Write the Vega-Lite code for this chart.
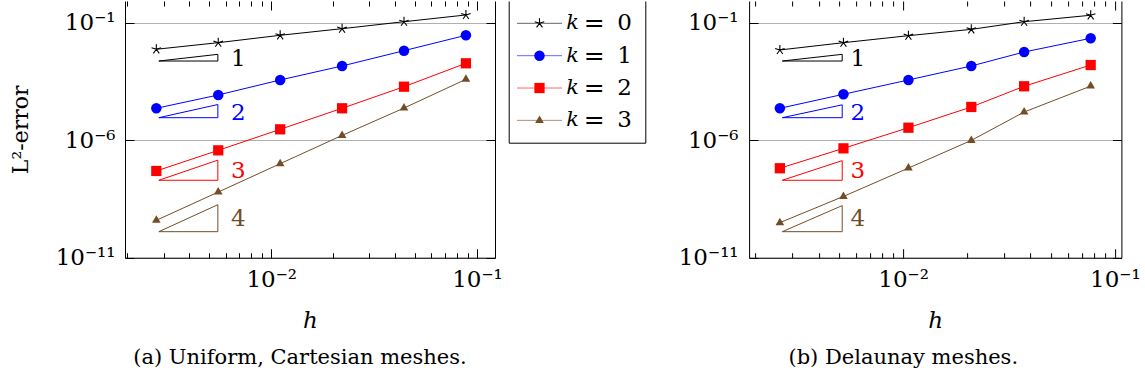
{
  "$schema": "https://vega.github.io/schema/vega-lite/v6.json",
  "padding": {"left": 9, "top": 0, "right": 0, "bottom": 0},
  "bounds": "flush",
  "spacing": 13.7,
  "config": {
    "view": {"stroke": null},
    "font": "DejaVu Serif",
    "axis": {"labelFont": "DejaVu Serif", "titleFont": "DejaVu Serif", "labelColor": "#000", "titleColor": "#000", "domainColor": "#000", "tickColor": "#000", "titleFontWeight": "normal", "labelFontSize": 23}
  },
  "datasets": {
    "a_pts": [
      {"k": 0, "h": 0.002762, "err": 0.0074}, {"k": 0, "h": 0.005524, "err": 0.0141}, {"k": 0, "h": 0.011049, "err": 0.0291}, {"k": 0, "h": 0.022097, "err": 0.0556}, {"k": 0, "h": 0.044194, "err": 0.110}, {"k": 0, "h": 0.088388, "err": 0.213},
      {"k": 1, "h": 0.002762, "err": 2.28e-5}, {"k": 1, "h": 0.005524, "err": 8.4e-5}, {"k": 1, "h": 0.011049, "err": 3.65e-4}, {"k": 1, "h": 0.022097, "err": 1.44e-3}, {"k": 1, "h": 0.044194, "err": 6.44e-3}, {"k": 1, "h": 0.088388, "err": 2.91e-2},
      {"k": 2, "h": 0.002762, "err": 4.9e-8}, {"k": 2, "h": 0.005524, "err": 3.7e-7}, {"k": 2, "h": 0.011049, "err": 2.9e-6}, {"k": 2, "h": 0.022097, "err": 2.28e-5}, {"k": 2, "h": 0.044194, "err": 1.89e-4}, {"k": 2, "h": 0.088388, "err": 1.87e-3},
      {"k": 3, "h": 0.002762, "err": 3.9e-10}, {"k": 3, "h": 0.005524, "err": 6.2e-9}, {"k": 3, "h": 0.011049, "err": 1.0e-7}, {"k": 3, "h": 0.022097, "err": 1.6e-6}, {"k": 3, "h": 0.044194, "err": 2.33e-5}, {"k": 3, "h": 0.088388, "err": 3.9e-4}
    ],
    "b_pts": [
      {"k": 0, "h": 0.00262, "err": 0.0069}, {"k": 0, "h": 0.00523, "err": 0.0141}, {"k": 0, "h": 0.0106, "err": 0.028}, {"k": 0, "h": 0.0210, "err": 0.052}, {"k": 0, "h": 0.0373, "err": 0.110}, {"k": 0, "h": 0.0769, "err": 0.207},
      {"k": 1, "h": 0.00262, "err": 2.28e-5}, {"k": 1, "h": 0.00523, "err": 9.0e-5}, {"k": 1, "h": 0.0106, "err": 3.65e-4}, {"k": 1, "h": 0.0210, "err": 1.44e-3}, {"k": 1, "h": 0.0373, "err": 5.66e-3}, {"k": 1, "h": 0.0769, "err": 2.17e-2},
      {"k": 2, "h": 0.00262, "err": 6.4e-8}, {"k": 2, "h": 0.00523, "err": 4.5e-7}, {"k": 2, "h": 0.0106, "err": 3.4e-6}, {"k": 2, "h": 0.0210, "err": 2.59e-5}, {"k": 2, "h": 0.0373, "err": 1.97e-4}, {"k": 2, "h": 0.0769, "err": 1.58e-3},
      {"k": 3, "h": 0.00262, "err": 3.1e-10}, {"k": 3, "h": 0.00523, "err": 4.05e-9}, {"k": 3, "h": 0.0106, "err": 6.5e-8}, {"k": 3, "h": 0.0210, "err": 9.8e-7}, {"k": 3, "h": 0.0373, "err": 1.58e-5}, {"k": 3, "h": 0.0769, "err": 2.0e-4}
    ],
    "a_tri": [
      {"k": 0, "o": 0, "h": 0.00284, "err": 2.34e-3}, {"k": 0, "o": 1, "h": 0.0055, "err": 2.34e-3}, {"k": 0, "o": 2, "h": 0.0055, "err": 4.5e-3}, {"k": 0, "o": 3, "h": 0.00284, "err": 2.34e-3},
      {"k": 1, "o": 0, "h": 0.00284, "err": 9.06e-6}, {"k": 1, "o": 1, "h": 0.0055, "err": 9.06e-6}, {"k": 1, "o": 2, "h": 0.0055, "err": 3.3e-5}, {"k": 1, "o": 3, "h": 0.00284, "err": 9.06e-6},
      {"k": 2, "o": 0, "h": 0.00284, "err": 1.97e-8}, {"k": 2, "o": 1, "h": 0.0055, "err": 1.97e-8}, {"k": 2, "o": 2, "h": 0.0055, "err": 1.42e-7}, {"k": 2, "o": 3, "h": 0.00284, "err": 1.97e-8},
      {"k": 3, "o": 0, "h": 0.00284, "err": 1.28e-10}, {"k": 3, "o": 1, "h": 0.0055, "err": 1.28e-10}, {"k": 3, "o": 2, "h": 0.0055, "err": 1.8e-9}, {"k": 3, "o": 3, "h": 0.00284, "err": 1.28e-10}
    ],
    "b_tri": [
      {"k": 0, "o": 0, "h": 0.00269, "err": 2.34e-3}, {"k": 0, "o": 1, "h": 0.00516, "err": 2.34e-3}, {"k": 0, "o": 2, "h": 0.00516, "err": 4.5e-3}, {"k": 0, "o": 3, "h": 0.00269, "err": 2.34e-3},
      {"k": 1, "o": 0, "h": 0.00269, "err": 9.06e-6}, {"k": 1, "o": 1, "h": 0.00516, "err": 9.06e-6}, {"k": 1, "o": 2, "h": 0.00516, "err": 3.2e-5}, {"k": 1, "o": 3, "h": 0.00269, "err": 9.06e-6},
      {"k": 2, "o": 0, "h": 0.00269, "err": 1.97e-8}, {"k": 2, "o": 1, "h": 0.00516, "err": 1.97e-8}, {"k": 2, "o": 2, "h": 0.00516, "err": 1.35e-7}, {"k": 2, "o": 3, "h": 0.00269, "err": 1.97e-8},
      {"k": 3, "o": 0, "h": 0.00269, "err": 1.28e-10}, {"k": 3, "o": 1, "h": 0.00516, "err": 1.28e-10}, {"k": 3, "o": 2, "h": 0.00516, "err": 1.65e-9}, {"k": 3, "o": 3, "h": 0.00269, "err": 1.28e-10}
    ],
    "a_lab": [
      {"k": 0, "h": 0.00637, "err": 2.85e-3, "lab": "1"}, {"k": 1, "h": 0.00637, "err": 1.48e-5, "lab": "2"}, {"k": 2, "h": 0.00637, "err": 4.9e-8, "lab": "3"}, {"k": 3, "h": 0.00637, "err": 4.3e-10, "lab": "4"}
    ],
    "b_lab": [
      {"k": 0, "h": 0.00564, "err": 2.85e-3, "lab": "1"}, {"k": 1, "h": 0.00564, "err": 1.48e-5, "lab": "2"}, {"k": 2, "h": 0.00564, "err": 4.9e-8, "lab": "3"}, {"k": 3, "h": 0.00564, "err": 4.3e-10, "lab": "4"}
    ],
    "legend": [
      {"k": 0, "lab": "0"}, {"k": 1, "lab": "1"}, {"k": 2, "lab": "2"}, {"k": 3, "lab": "3"}
    ]
  },
  "hconcat": [
    {
      "width": 370, "height": 256.7,
      "title": {"text": "(a) Uniform, Cartesian meshes.", "orient": "bottom", "anchor": "middle", "frame": "group", "dx": -10, "offset": 14, "font": "DejaVu Serif", "fontSize": 21, "fontWeight": "normal", "color": "#000"},
      "resolve": {"axis": {"x": "independent", "y": "independent"}},
      "layer": [
        {
          "data": {"name": "a_pts"},
          "mark": {"type": "line", "strokeWidth": 1},
          "encoding": {
            "x": {"field": "h", "type": "quantitative", "scale": {"type": "log", "domain": [0.001945, 0.1224], "nice": false},
              "axis": {"orient": "bottom", "values": [0.002,0.003,0.004,0.005,0.006,0.007,0.008,0.009,0.01,0.02,0.03,0.04,0.05,0.06,0.07,0.08,0.09,0.1], "labelExpr": "datum.value==0.01?'10⁻²':datum.value==0.1?'10⁻¹':''", "tickSize": {"condition": {"test": "datum.value==0.01||datum.value==0.1", "value": -9}, "value": -5}, "tickWidth": 1, "labelPadding": 20, "labelFlush": false, "labelOverlap": false, "grid": false, "domainWidth": 1, "title": "h", "titleFontStyle": "italic", "titleFontSize": 23, "titlePadding": 14}},
            "y": {"field": "err", "type": "quantitative", "scale": {"type": "log", "domain": [1e-11, 0.8375], "nice": false},
              "axis": {"orient": "left", "values": [1e-11, 1e-6, 0.1], "labelExpr": "datum.value<1e-10?'10⁻¹¹':datum.value<1e-5?'10⁻⁶':'10⁻¹'", "tickSize": -9, "tickWidth": 1, "labelPadding": 19, "labelFlush": false, "grid": true, "gridColor": "#b0b0b0", "gridWidth": 1, "domainWidth": 1, "title": "L²-error", "titleFontSize": 22, "titlePadding": 23}},
            "color": {"field": "k", "type": "nominal", "scale": {"domain": [0, 1, 2, 3], "range": ["#000000", "#0000ff", "#ff0000", "#734d26"]}, "legend": null}
          }
        },
        {
          "data": {"name": "a_pts"},
          "transform": [{"filter": "datum.k==0"}],
          "mark": {"type": "point", "shape": "M0,0L0,-1M0,0L0.951,-0.309M0,0L0.588,0.809M0,0L-0.588,0.809M0,0L-0.951,-0.309", "filled": false, "size": 100, "strokeWidth": 1.1, "color": "#000000", "opacity": 1},
          "encoding": {
            "x": {"field": "h", "type": "quantitative", "scale": {"type": "log", "domain": [0.001945, 0.1224], "nice": false},
              "axis": {"orient": "top", "values": [0.002,0.003,0.004,0.005,0.006,0.007,0.008,0.009,0.01,0.02,0.03,0.04,0.05,0.06,0.07,0.08,0.09,0.1], "labels": false, "tickSize": {"condition": {"test": "datum.value==0.01||datum.value==0.1", "value": -9}, "value": -5}, "tickWidth": 1, "grid": false, "domain": false, "title": null}},
            "y": {"field": "err", "type": "quantitative", "scale": {"type": "log", "domain": [1e-11, 0.8375], "nice": false},
              "axis": {"orient": "right", "values": [1e-11, 1e-6, 0.1], "labels": false, "tickSize": -9, "tickWidth": 1, "grid": false, "domainWidth": 1, "title": null}}
          }
        },
        {
          "data": {"name": "a_pts"},
          "transform": [{"filter": "datum.k>0"}],
          "mark": {"type": "point", "filled": true, "opacity": 1},
          "encoding": {
            "x": {"field": "h", "type": "quantitative", "axis": null},
            "y": {"field": "err", "type": "quantitative", "axis": null},
            "color": {"field": "k", "type": "nominal", "legend": null},
            "shape": {"field": "k", "type": "nominal", "scale": {"domain": [1, 2, 3], "range": ["circle", "square", "M0,-1L0.866,0.5L-0.866,0.5Z"]}, "legend": null},
            "size": {"field": "k", "type": "ordinal", "scale": {"domain": [1, 2, 3], "range": [110, 100, 150]}, "legend": null}
          }
        },
        {
          "data": {"name": "a_tri"},
          "mark": {"type": "line", "strokeWidth": 1},
          "encoding": {
            "x": {"field": "h", "type": "quantitative", "axis": null},
            "y": {"field": "err", "type": "quantitative", "axis": null},
            "color": {"field": "k", "type": "nominal", "legend": null},
            "order": {"field": "o", "type": "quantitative"}
          }
        },
        {
          "data": {"name": "a_lab"},
          "mark": {"type": "text", "align": "left", "baseline": "middle", "font": "DejaVu Serif", "fontSize": 23},
          "encoding": {
            "x": {"field": "h", "type": "quantitative", "axis": null},
            "y": {"field": "err", "type": "quantitative", "axis": null},
            "text": {"field": "lab"},
            "color": {"field": "k", "type": "nominal", "legend": null}
          }
        }
      ]
    },
    {
      "bounds": "flush",
      "spacing": 103.4,
      "hconcat": [
        {
          "width": 136.6, "height": 141.7,
          "data": {"name": "legend"},
          "resolve": {"axis": {"x": "independent", "y": "independent"}},
          "layer": [
            {
              "mark": {"type": "rule", "strokeWidth": 1, "opacity": 0.6},
              "encoding": {
                "x": {"datum": 8.3, "type": "quantitative", "scale": {"domain": [0, 136.6], "nice": false, "zero": false}, "axis": {"orient": "bottom", "domain": true, "domainWidth": 1, "ticks": false, "labels": false, "grid": false, "title": null}},
                "x2": {"datum": 53.3},
                "y": {"field": "k", "type": "ordinal", "scale": {"type": "point", "padding": 0.69}, "axis": {"orient": "left", "domain": true, "domainWidth": 1, "ticks": false, "labels": false, "grid": false, "title": null}},
                "color": {"field": "k", "type": "nominal", "scale": {"domain": [0, 1, 2, 3], "range": ["#000000", "#0000ff", "#ff0000", "#734d26"]}, "legend": null}
              }
            },
            {
              "transform": [{"filter": "datum.k==0"}],
              "mark": {"type": "point", "shape": "M0,0L0,-1M0,0L0.951,-0.309M0,0L0.588,0.809M0,0L-0.588,0.809M0,0L-0.951,-0.309", "filled": false, "size": 100, "strokeWidth": 1.1, "color": "#000000", "opacity": 1},
              "encoding": {
                "x": {"datum": 30.8, "type": "quantitative", "axis": null},
                "y": {"field": "k", "type": "ordinal", "axis": {"orient": "right", "domain": true, "domainWidth": 1, "ticks": false, "labels": false, "grid": false, "title": null}}
              }
            },
            {
              "transform": [{"filter": "datum.k>0"}],
              "mark": {"type": "point", "filled": true, "opacity": 1},
              "encoding": {
                "x": {"datum": 30.8, "type": "quantitative", "axis": null},
                "y": {"field": "k", "type": "ordinal", "axis": null},
                "color": {"field": "k", "type": "nominal", "legend": null},
                "shape": {"field": "k", "type": "nominal", "scale": {"domain": [1, 2, 3], "range": ["circle", "square", "M0,-1L0.866,0.5L-0.866,0.5Z"]}, "legend": null},
                "size": {"field": "k", "type": "ordinal", "scale": {"domain": [1, 2, 3], "range": [110, 100, 150]}, "legend": null}
              }
            },
            {
              "mark": {"type": "text", "align": "left", "baseline": "middle", "font": "DejaVu Serif", "fontSize": 21, "fontStyle": "italic", "color": "#000"},
              "encoding": {
                "x": {"datum": 57.5, "type": "quantitative", "axis": null},
                "y": {"field": "k", "type": "ordinal", "axis": null},
                "text": {"value": "k"}
              }
            },
            {
              "mark": {"type": "text", "align": "left", "baseline": "middle", "font": "DejaVu Serif", "fontSize": 25, "color": "#000"},
              "encoding": {
                "x": {"datum": 75, "type": "quantitative", "axis": null},
                "y": {"field": "k", "type": "ordinal", "axis": null},
                "text": {"value": "="}
              }
            },
            {
              "mark": {"type": "text", "align": "left", "baseline": "middle", "font": "DejaVu Serif", "fontSize": 23, "color": "#000"},
              "encoding": {
                "x": {"datum": 108.5, "type": "quantitative", "axis": null},
                "y": {"field": "k", "type": "ordinal", "axis": null},
                "text": {"field": "lab"}
              }
            }
          ]
        },
        {
          "width": 372.3, "height": 256.7,
          "title": {"text": "(b) Delaunay meshes.", "orient": "bottom", "anchor": "middle", "frame": "group", "dx": -32, "offset": 14, "font": "DejaVu Serif", "fontSize": 21, "fontWeight": "normal", "color": "#000"},
          "resolve": {"axis": {"x": "independent", "y": "independent"}},
          "layer": [
            {
              "data": {"name": "b_pts"},
              "mark": {"type": "line", "strokeWidth": 1},
              "encoding": {
                "x": {"field": "h", "type": "quantitative", "scale": {"type": "log", "domain": [0.001875, 0.1074], "nice": false},
                  "axis": {"orient": "bottom", "values": [0.002,0.003,0.004,0.005,0.006,0.007,0.008,0.009,0.01,0.02,0.03,0.04,0.05,0.06,0.07,0.08,0.09,0.1], "labelExpr": "datum.value==0.01?'10⁻²':datum.value==0.1?'10⁻¹':''", "tickSize": {"condition": {"test": "datum.value==0.01||datum.value==0.1", "value": -9}, "value": -5}, "tickWidth": 1, "labelPadding": 20, "labelFlush": false, "labelOverlap": false, "grid": false, "domainWidth": 1, "title": "h", "titleFontStyle": "italic", "titleFontSize": 23, "titlePadding": 14}},
                "y": {"field": "err", "type": "quantitative", "scale": {"type": "log", "domain": [1e-11, 0.8375], "nice": false},
                  "axis": {"orient": "left", "values": [1e-11, 1e-6, 0.1], "labelExpr": "datum.value<1e-10?'10⁻¹¹':datum.value<1e-5?'10⁻⁶':'10⁻¹'", "tickSize": -9, "tickWidth": 1, "labelPadding": 20, "labelFlush": false, "grid": true, "gridColor": "#b0b0b0", "gridWidth": 1, "domainWidth": 1, "title": null}},
                "color": {"field": "k", "type": "nominal", "scale": {"domain": [0, 1, 2, 3], "range": ["#000000", "#0000ff", "#ff0000", "#734d26"]}, "legend": null}
              }
            },
            {
              "data": {"name": "b_pts"},
              "transform": [{"filter": "datum.k==0"}],
              "mark": {"type": "point", "shape": "M0,0L0,-1M0,0L0.951,-0.309M0,0L0.588,0.809M0,0L-0.588,0.809M0,0L-0.951,-0.309", "filled": false, "size": 100, "strokeWidth": 1.1, "color": "#000000", "opacity": 1},
              "encoding": {
                "x": {"field": "h", "type": "quantitative", "scale": {"type": "log", "domain": [0.001875, 0.1074], "nice": false},
                  "axis": {"orient": "top", "values": [0.002,0.003,0.004,0.005,0.006,0.007,0.008,0.009,0.01,0.02,0.03,0.04,0.05,0.06,0.07,0.08,0.09,0.1], "labels": false, "tickSize": {"condition": {"test": "datum.value==0.01||datum.value==0.1", "value": -9}, "value": -5}, "tickWidth": 1, "grid": false, "domain": false, "title": null}},
                "y": {"field": "err", "type": "quantitative", "scale": {"type": "log", "domain": [1e-11, 0.8375], "nice": false},
                  "axis": {"orient": "right", "values": [1e-11, 1e-6, 0.1], "labels": false, "tickSize": -9, "tickWidth": 1, "grid": false, "domainWidth": 1, "title": null}}
              }
            },
            {
              "data": {"name": "b_pts"},
              "transform": [{"filter": "datum.k>0"}],
              "mark": {"type": "point", "filled": true, "opacity": 1},
              "encoding": {
                "x": {"field": "h", "type": "quantitative", "axis": null},
                "y": {"field": "err", "type": "quantitative", "axis": null},
                "color": {"field": "k", "type": "nominal", "legend": null},
                "shape": {"field": "k", "type": "nominal", "scale": {"domain": [1, 2, 3], "range": ["circle", "square", "M0,-1L0.866,0.5L-0.866,0.5Z"]}, "legend": null},
                "size": {"field": "k", "type": "ordinal", "scale": {"domain": [1, 2, 3], "range": [110, 100, 150]}, "legend": null}
              }
            },
            {
              "data": {"name": "b_tri"},
              "mark": {"type": "line", "strokeWidth": 1},
              "encoding": {
                "x": {"field": "h", "type": "quantitative", "axis": null},
                "y": {"field": "err", "type": "quantitative", "axis": null},
                "color": {"field": "k", "type": "nominal", "legend": null},
                "order": {"field": "o", "type": "quantitative"}
              }
            },
            {
              "data": {"name": "b_lab"},
              "mark": {"type": "text", "align": "left", "baseline": "middle", "font": "DejaVu Serif", "fontSize": 23},
              "encoding": {
                "x": {"field": "h", "type": "quantitative", "axis": null},
                "y": {"field": "err", "type": "quantitative", "axis": null},
                "text": {"field": "lab"},
                "color": {"field": "k", "type": "nominal", "legend": null}
              }
            }
          ]
        }
      ]
    }
  ]
}
